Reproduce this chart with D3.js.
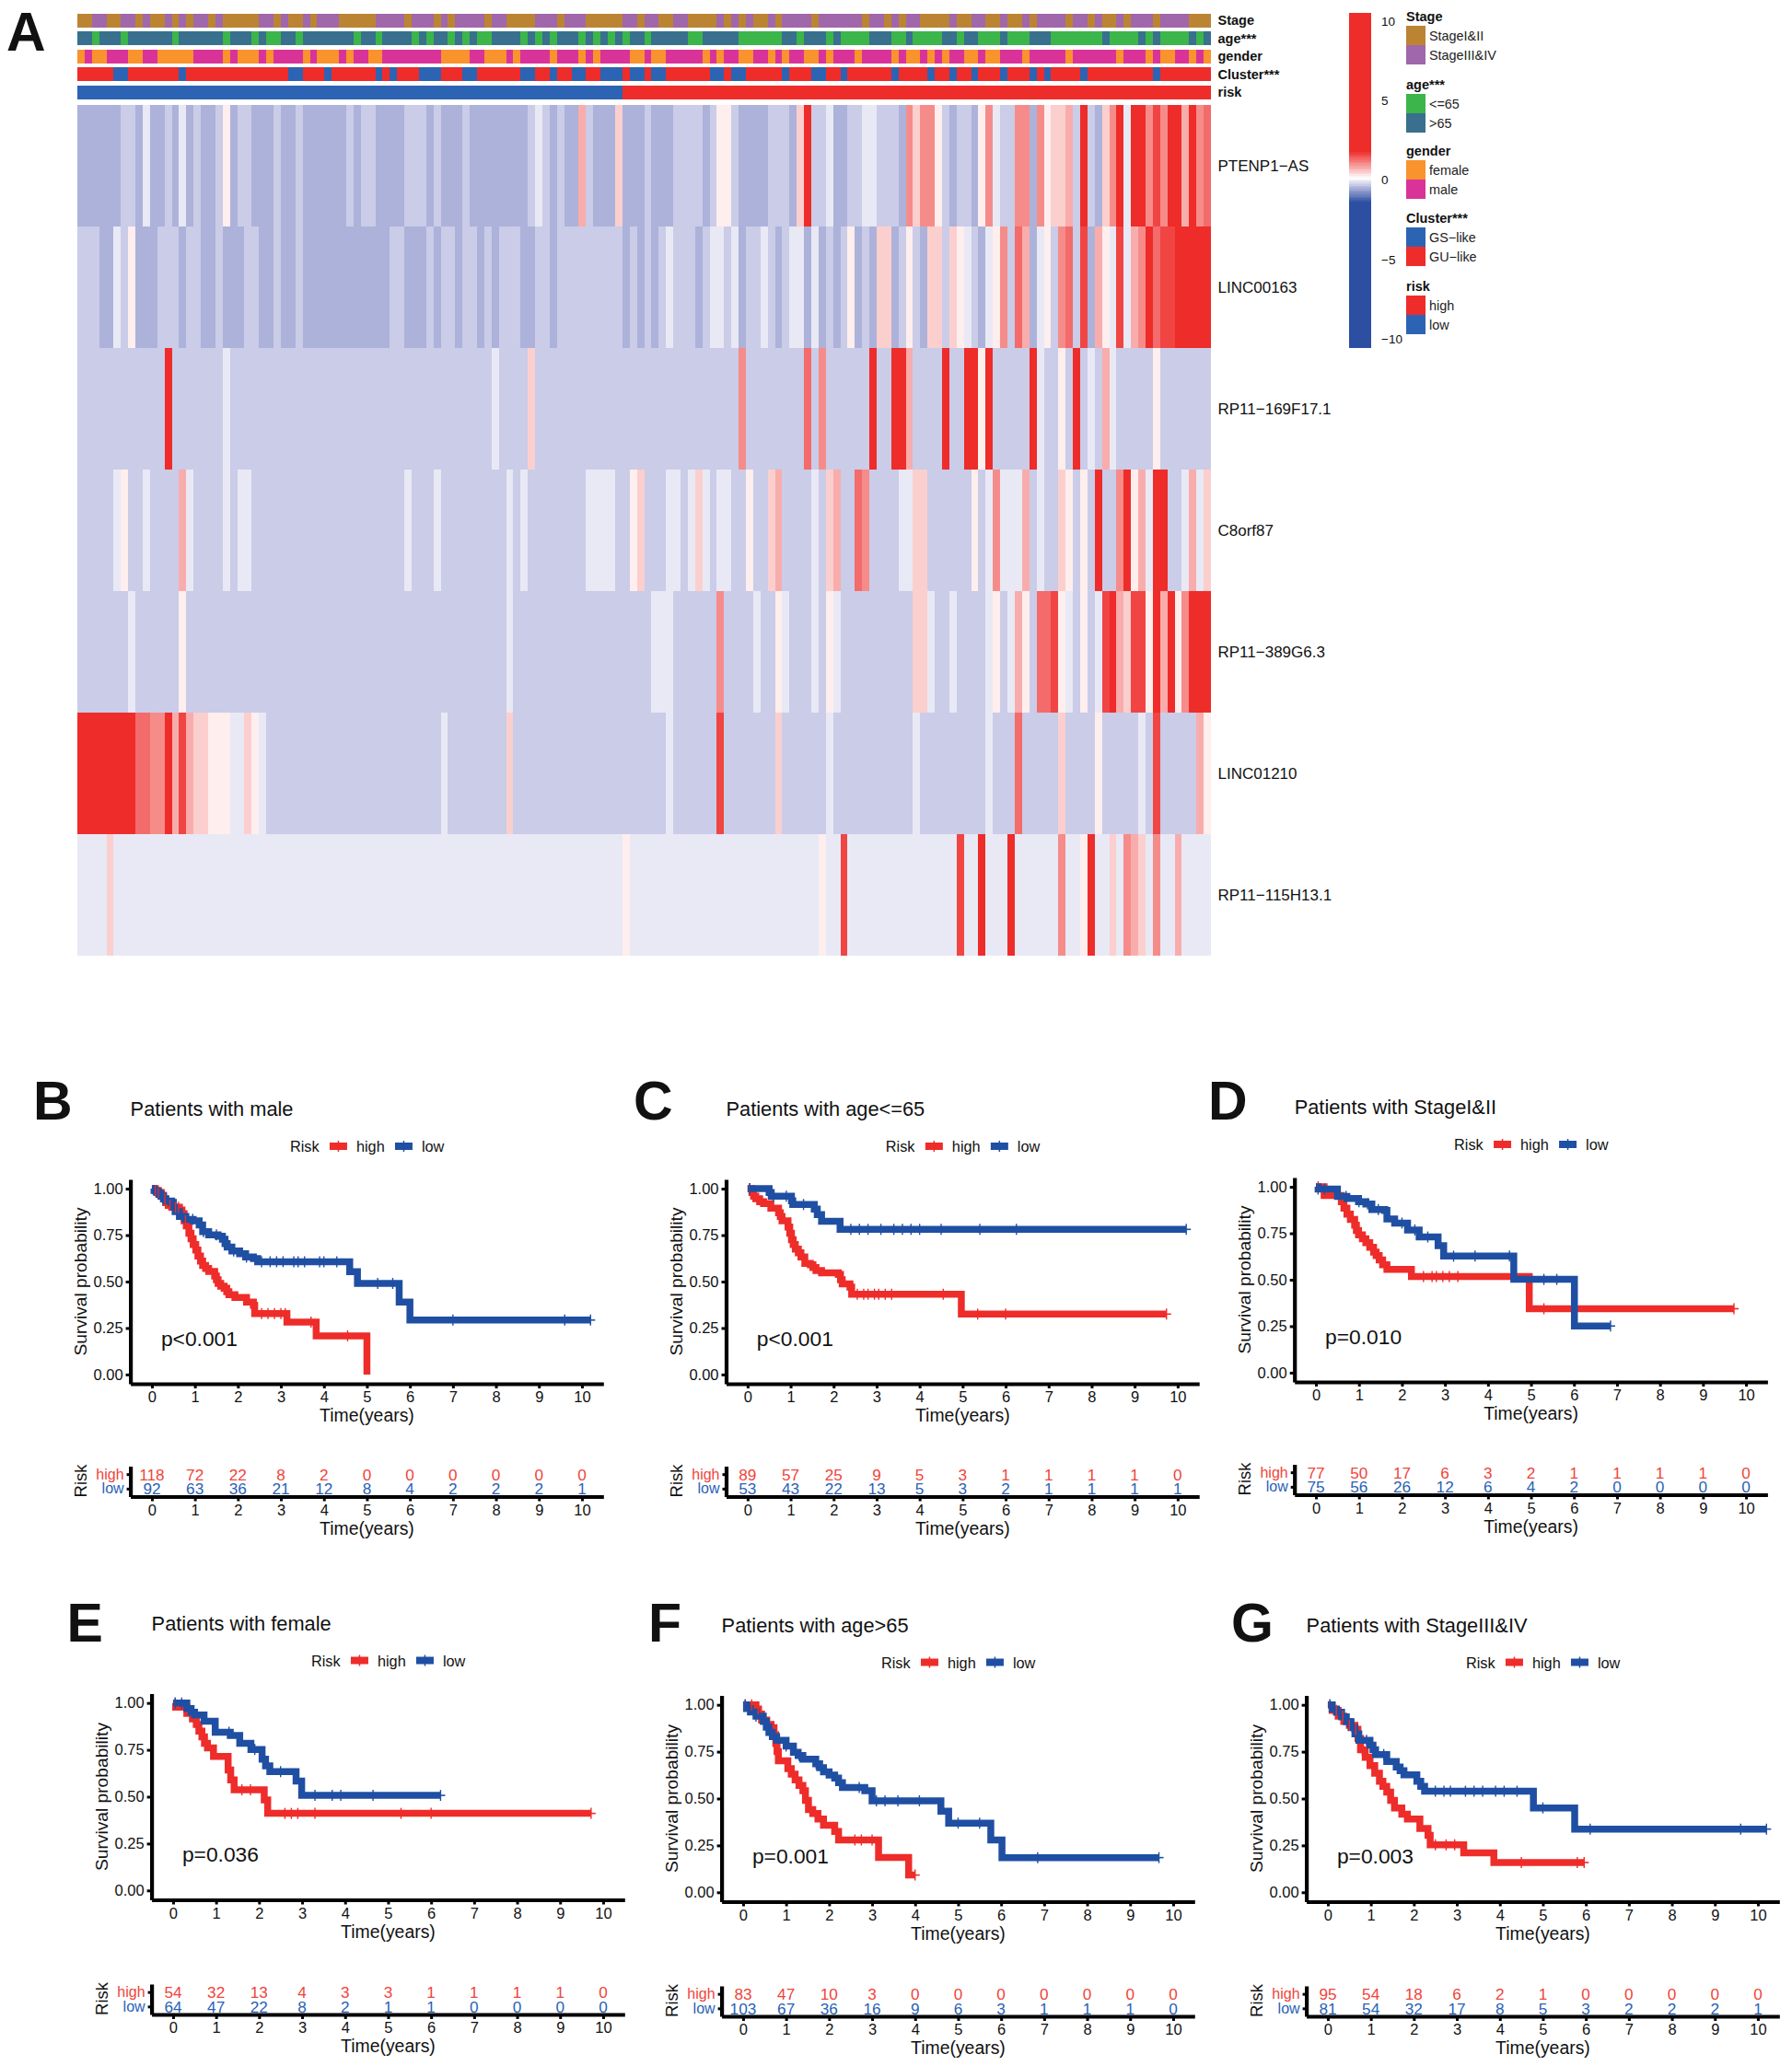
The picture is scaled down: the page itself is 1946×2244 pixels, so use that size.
<!DOCTYPE html>
<html>
<head>
<meta charset="utf-8">
<script src="https://cdn.jsdelivr.net/npm/d3@7"></script>
<style>
  body { margin: 0; background: #fff; }
  text { font-family: "Liberation Sans", Arial, sans-serif; fill: #111; }
</style>
</head>
<body>
<div id="chart"></div>
<script>
var svgWidth = 1946;
var svgHeight = 2244;

// expression levels
const A = -0.49, B = -0.28, C = -0.07, D = 0.24, E = 0.49, F = 0.76, G = 1.03, H = 1.29, I = 1.6, J = 5;

// heatmap rows as level,count runs over the sample columns
const genes = ["PTENP1\u2212AS", "LINC00163", "RP11\u2212169F17.1", "C8orf87", "RP11\u2212389G6.3", "LINC01210", "RP11\u2212115H13.1"];
const rowPTENP1 = [A,6,B,2,A,1,C,1,A,2,B,1,A,1,C,1,A,1,B,1,A,2,B,1,D,1,A,1,B,2,A,3,B,1,A,2,B,1,A,6,B,1,A,1,B,2,A,4,B,3,A,1,B,1,A,3,B,1,A,8,B,1,C,1,B,1,A,1,B,1,A,2,F,1,B,1,A,3,E,1,A,3,
  B,1,A,3,B,4,A,1,B,1,D,2,B,1,A,4,B,3,A,1,E,1,J,1,B,2,C,1,A,2,B,2,C,2,B,3,A,1,G,1,E,1,G,2,D,1,B,1,A,1,B,2,A,1,D,1,G,1,C,1,B,2,G,2,A,1,G,1,D,1,E,2,F,1,B,1,J,1,B,1,A,1,E,1,G,1,J,1,C,1,J,2,G,1,I,1,G,1,J,2,F,1,J,1,G,1,H,1];
const rowLINC00163 = [B,3,A,2,C,1,B,1,D,1,A,3,B,3,A,1,B,2,A,2,B,1,A,3,B,2,A,2,B,1,A,2,B,1,A,12,B,2,A,3,B,1,A,1,B,2,A,1,B,2,A,1,B,1,A,1,B,3,A,2,B,2,A,1,B,9,A,1,B,1,A,1,
  B,1,A,1,B,1,C,1,B,3,A,1,B,1,C,2,B,1,C,1,A,1,B,2,C,1,B,1,A,1,B,1,C,2,A,1,C,1,A,1,B,1,A,1,B,1,D,1,A,1,B,1,A,1,E,2,A,1,B,1,D,1,B,1,A,1,E,2,B,1,E,1,D,1,C,1,B,1,A,1,C,1,D,1,G,1,B,1,H,1,F,1,A,1,C,1,D,1,B,1,G,1,H,1,B,1,I,1,A,1,F,1,D,1,C,1,I,1,C,1,F,1,G,1,J,1,H,1,I,2,J,5];
const rowRP11169 = [B,12,J,1,B,7,C,1,B,36,C,1,B,4,E,1,B,15,
  B,13,G,1,B,8,H,1,B,1,G,1,B,6,J,1,B,2,J,2,F,1,B,4,J,1,B,2,J,2,D,1,J,1,B,5,J,1,C,1,B,2,D,1,B,1,J,1,B,1,C,1,B,1,F,1,C,1,B,5,D,1,B,7];
const rowC8orf87 = [B,5,C,1,D,1,B,2,C,1,B,4,F,1,C,1,B,4,C,1,B,1,C,2,B,21,C,1,B,3,C,1,B,9,C,1,B,1,C,1,B,8,C,4,B,2,D,1,E,1,
  B,3,C,2,B,1,C,1,E,1,C,1,B,1,C,2,B,2,D,1,B,2,E,1,F,1,B,4,C,1,B,1,E,1,F,1,B,2,H,1,G,1,B,4,C,2,E,2,B,6,D,1,B,1,C,1,G,1,C,3,F,1,B,1,C,1,B,2,E,1,D,1,B,1,D,1,B,1,J,1,B,2,G,1,J,1,D,1,F,1,C,1,J,2,B,2,C,1,F,1,C,1,E,1];
const rowRP11389 = [B,7,C,1,B,6,D,1,B,44,C,1,B,18,
  B,1,C,3,B,6,G,1,B,4,C,1,B,2,D,1,C,1,B,3,C,1,B,1,D,1,C,1,B,10,E,2,C,1,B,2,C,1,B,4,C,1,D,1,B,1,C,1,F,1,D,1,B,1,H,2,I,1,D,1,C,1,B,1,D,1,B,1,C,1,I,1,J,1,F,1,E,1,I,2,D,1,J,1,F,1,J,1,D,1,G,1,J,3];
const rowLINC01210 = [J,8,H,1,H,1,G,2,J,1,F,1,I,1,F,1,E,2,D,3,C,2,E,1,D,1,C,1,B,24,C,1,B,8,E,1,B,18,
  B,3,C,1,B,6,I,1,B,7,E,1,B,6,C,1,B,11,C,1,B,9,C,1,B,3,H,1,B,5,E,1,B,4,D,1,B,5,C,1,B,1,I,1,B,5,F,1,D,1];
const rowRP11115 = [C,4,E,1,C,70,D,1,C,2,
  C,24,D,1,C,2,I,1,C,15,I,1,C,2,J,1,C,3,J,1,C,6,G,1,C,2,D,1,J,1,C,2,E,1,C,1,G,1,F,1,E,1,C,1,G,1,C,2,F,1,C,4];
const heatRows = [rowPTENP1, rowLINC00163, rowRP11169, rowC8orf87, rowRP11389, rowLINC01210, rowRP11115];

// annotation tracks as alternating runs, starting with the first colour named
const stageRuns = [2,2,2,2,1,1,2,1,1,1,1,2,1,1,5,2,1,1,2,1,1,3,5,4,1,3,1,1,1,4,1,2,4,3,1,3,5,2,1,2,2,2,4,1,1,1,1,1,2,1,1,4,1,6,1,2,1,1,1,2,4,1,2,2,2,1,2,1,1,4,1,2,1,1,2,1,1,3,1,4,3];
const ageRuns = [2,1,3,1,6,1,6,1,3,1,1,2,2,1,7,1,2,1,4,1,1,1,2,1,1,1,1,2,4,1,1,1,1,1,3,1,1,1,1,1,1,1,2,1,5,2,5,6,2,1,3,1,1,4,3,2,1,4,2,1,2,3,1,3,3,7,1,4,1,1,1,4,1,1,1];
const genderRuns = [1,1,2,3,2,2,5,4,1,1,3,1,1,4,1,1,3,1,1,2,2,8,4,2,3,1,1,4,1,3,1,1,1,4,2,1,2,5,1,1,1,2,2,2,1,1,1,2,2,1,1,3,1,4,1,1,2,1,1,1,1,2,2,1,2,3,1,5,1,6,1,3,1,1,2,2,1,1,1];
const clusterRuns = [5,2,7,1,14,2,3,1,6,1,1,1,3,3,3,2,6,2,2,1,2,2,2,3,1,2,1,2,6,2,1,2,5,1,3,2,2,1,6,1,4,1,2,1,2,1,3,1,3,1,1,1,4,1,9,1,7];
const riskRuns = [75,81];

const annotNames = ["Stage", "age***", "gender", "Cluster***", "risk"];
const annotRuns = [stageRuns, ageRuns, genderRuns, clusterRuns, riskRuns];
const annotColors = [["#bb8433","#a067ab"],["#38708e","#3cb54a"],["#f8932e","#d9339a"],["#ee2c2a","#2d63b3"],["#2d63b3","#ee2c2a"]];

// legend blocks on the right of the heatmap
const legendTitles = ["Stage", "age***", "gender", "Cluster***", "risk"];
const legendLabels = [["StageI&II","StageIII&IV"],["<=65",">65"],["female","male"],["GS\u2212like","GU\u2212like"],["high","low"]];
const legendColors = [["#bb8433","#a067ab"],["#3cb54a","#38708e"],["#f8932e","#d9339a"],["#2d63b3","#ee2c2a"],["#ee2c2a","#2d63b3"]];

// survival curves as [years, probability]
const maleHigh = [[0,1],[.08,.99],[.15,.98],[.22,.965],[.27,.945],[.32,.925],[.38,.91],[.46,.9],[.64,.885],[.7,.865],[.75,.827],[.8,.8],[.86,.76],[.91,.73],[.96,.7],[1.02,.67],[1.07,.637],[1.13,.61],[1.18,.587],[1.25,.57],[1.32,.555],[1.46,.53],[1.5,.51],[1.54,.49],[1.6,.475],[1.68,.464],[1.74,.445],[1.79,.43],[1.93,.414],[2.2,.39],[2.36,.373],[2.39,.328],[3.14,.282],[3.82,.208],[5,0]];
const maleLow = [[0,1],[.05,.99],[.1,.983],[.16,.97],[.21,.959],[.27,.945],[.32,.934],[.46,.926],[.5,.9],[.54,.876],[.64,.851],[.79,.835],[.96,.827],[1.1,.805],[1.18,.769],[1.32,.752],[1.54,.744],[1.64,.728],[1.7,.705],[1.75,.686],[1.86,.665],[2.04,.65],[2.18,.632],[2.36,.624],[2.46,.607],[4.6,.553],[4.78,.49],[5.75,.39],[6,.293],[10.2,.293]];
const maleHighCens = [.08,.15,.3,.42,.55,.62,.78,2.55,2.7,2.85,3.0,3.1,3.7,4.55];
const maleLowCens = [.05,.12,.25,.38,.5,.7,.95,1.2,1.5,1.9,2.2,2.55,2.75,2.9,3.05,3.3,3.4,3.55,3.9,4.0,4.3,5.25,5.6,7.0,9.6,10.2];

const age65High = [[0,1],[.1,.98],[.14,.96],[.19,.946],[.28,.93],[.37,.92],[.54,.895],[.72,.87],[.76,.85],[.8,.827],[.94,.793],[.98,.76],[1.02,.725],[1.06,.7],[1.11,.675],[1.18,.655],[1.24,.632],[1.33,.598],[1.46,.59],[1.52,.575],[1.59,.56],[1.72,.547],[2.11,.539],[2.16,.51],[2.2,.488],[2.38,.47],[2.42,.432],[4.97,.325],[9.74,.325]];
const age65Low = [[0,1],[.5,.98],[.55,.96],[1.02,.935],[1.05,.915],[1.55,.89],[1.62,.86],[1.72,.824],[2.15,.781],[10.2,.781]];
const age65HighCens = [.05,2.55,2.7,2.8,2.95,3.05,3.2,3.35,4.55,5.35,6,9.74];
const age65LowCens = [.05,.6,.9,1.3,2.4,2.6,2.8,3.1,3.4,3.6,3.8,4,4.5,5.4,6.25,10.2];

const stage12High = [[0,1],[.19,.954],[.59,.92],[.65,.885],[.72,.853],[.8,.825],[.9,.793],[.94,.765],[.99,.742],[1.08,.72],[1.16,.7],[1.25,.675],[1.34,.649],[1.4,.63],[1.47,.607],[1.55,.58],[1.65,.556],[2.22,.517],[4.96,.344],[9.72,.344]];
const stage12Low = [[0,1],[.05,.988],[.5,.949],[.72,.937],[.99,.92],[1.16,.907],[1.3,.878],[1.6,.873],[1.65,.827],[1.83,.805],[2.13,.768],[2.4,.73],[2.84,.683],[2.97,.627],[4.6,.502],[6.01,.251],[6.85,.251]];
const stage12HighCens = [.05,2.5,2.7,2.8,2.95,3.1,3.3,5.3,9.72];
const stage12LowCens = [.05,.2,.7,1,1.2,1.45,2,2.3,2.6,3.2,3.7,4.5,5.3,5.6,6.85];

const femaleHigh = [[0,1],[.06,.978],[.32,.945],[.45,.915],[.54,.886],[.6,.85],[.67,.819],[.73,.785],[.8,.76],[.94,.715],[1.28,.643],[1.34,.59],[1.42,.537],[2.12,.483],[2.2,.411],[9.72,.411]];
const femaleLow = [[0,1],[.32,.97],[.42,.95],[.5,.936],[.72,.903],[.98,.844],[1.33,.827],[1.55,.785],[1.81,.752],[2.07,.7],[2.15,.665],[2.25,.634],[2.86,.584],[2.99,.507],[6.22,.507]];
const femaleHighCens = [.05,1.6,1.8,2.6,2.75,2.9,3.3,5.3,6,9.72];
const femaleLowCens = [.05,.2,1.3,1.9,2.5,3.3,3.7,3.9,4.65,6.22];

const age65upHigh = [[0,1],[.3,.978],[.36,.95],[.43,.919],[.55,.895],[.65,.878],[.72,.84],[.76,.794],[.79,.75],[.82,.701],[1.04,.659],[1.12,.63],[1.21,.6],[1.3,.57],[1.39,.542],[1.45,.49],[1.52,.441],[1.62,.42],[1.74,.391],[1.87,.357],[2.13,.324],[2.22,.279],[3.15,.186],[3.85,.092],[4,.092]];
const age65upLow = [[0,1],[.08,.98],[.17,.961],[.3,.94],[.47,.911],[.54,.88],[.6,.852],[.68,.83],[.78,.81],[1,.78],[1.17,.747],[1.28,.73],[1.39,.71],[1.69,.685],[1.78,.665],[1.87,.643],[2,.625],[2.13,.609],[2.22,.585],[2.31,.559],[2.83,.542],[3,.488],[4.6,.433],[4.78,.369],[5.76,.279],[6.02,.185],[9.67,.185]];
const age65upHighCens = [.05,.2,.35,2.6,2.75,3.0,4];
const age65upLowCens = [.05,.15,.3,.5,1,1.3,1.7,2.7,3.1,3.3,3.6,4.1,5,5.5,6.85,9.67];

const stage34High = [[0,1],[.1,.97],[.24,.94],[.37,.911],[.5,.89],[.63,.869],[.7,.82],[.76,.76],[.87,.72],[.98,.676],[1.09,.635],[1.2,.592],[1.28,.565],[1.37,.534],[1.46,.49],[1.55,.45],[1.72,.416],[1.85,.391],[2.14,.341],[2.33,.304],[2.38,.253],[3.16,.21],[3.86,.159],[5.96,.159]];
const stage34Low = [[0,1],[.1,.978],[.2,.96],[.32,.936],[.43,.91],[.54,.878],[.63,.845],[.72,.81],[.98,.785],[1.05,.76],[1.11,.735],[1.37,.698],[1.59,.668],[1.68,.648],[1.77,.626],[2.07,.592],[2.16,.565],[2.25,.539],[4.78,.45],[5.74,.337],[10.2,.337]];
const stage34HighCens = [.05,.2,.35,.5,.65,.8,2.5,2.75,2.95,4.5,5.8,5.96];
const stage34LowCens = [.05,.15,.45,.9,1.3,2.5,2.7,2.85,3.2,3.4,3.6,3.9,4.1,4.4,5,6.1,9.6,10.2];

// numbers at risk at years 0..10
const timeTicks = [0,1,2,3,4,5,6,7,8,9,10];
const maleAtRiskHigh = [118,72,22,8,2,0,0,0,0,0,0];
const maleAtRiskLow = [92,63,36,21,12,8,4,2,2,2,1];
const age65AtRiskHigh = [89,57,25,9,5,3,1,1,1,1,0];
const age65AtRiskLow = [53,43,22,13,5,3,2,1,1,1,1];
const stage12AtRiskHigh = [77,50,17,6,3,2,1,1,1,1,0];
const stage12AtRiskLow = [75,56,26,12,6,4,2,0,0,0,0];
const femaleAtRiskHigh = [54,32,13,4,3,3,1,1,1,1,0];
const femaleAtRiskLow = [64,47,22,8,2,1,1,0,0,0,0];
const age65upAtRiskHigh = [83,47,10,3,0,0,0,0,0,0,0];
const age65upAtRiskLow = [103,67,36,16,9,6,3,1,1,1,0];
const stage34AtRiskHigh = [95,54,18,6,2,1,0,0,0,0,0];
const stage34AtRiskLow = [81,54,32,17,8,5,3,2,2,2,1];

// layout of the six survival panels
const panels = [
  {letter:"B", title:"Patients with male", pval:"p<0.001", left:141.6, bottom:1503, tableBottom:1625.5, h:222, letterX:36, letterY:1216, high:maleHigh, low:maleLow, highCens:maleHighCens, lowCens:maleLowCens, riskHigh:maleAtRiskHigh, riskLow:maleAtRiskLow},
  {letter:"C", title:"Patients with age<=65", pval:"p<0.001", left:788.5, bottom:1503, tableBottom:1625.5, h:222, letterX:688, letterY:1216, high:age65High, low:age65Low, highCens:age65HighCens, lowCens:age65LowCens, riskHigh:age65AtRiskHigh, riskLow:age65AtRiskLow},
  {letter:"D", title:"Patients with StageI&II", pval:"p=0.010", left:1405.7, bottom:1501, tableBottom:1623.5, h:222, letterX:1312, letterY:1216, high:stage12High, low:stage12Low, highCens:stage12HighCens, lowCens:stage12LowCens, riskHigh:stage12AtRiskHigh, riskLow:stage12AtRiskLow},
  {letter:"E", title:"Patients with female", pval:"p=0.036", left:164.6, bottom:2063.5, tableBottom:2188, h:224, letterX:72.5, letterY:1783, high:femaleHigh, low:femaleLow, highCens:femaleHighCens, lowCens:femaleLowCens, riskHigh:femaleAtRiskHigh, riskLow:femaleAtRiskLow},
  {letter:"F", title:"Patients with age>65", pval:"p=0.001", left:783.6, bottom:2065.5, tableBottom:2190, h:224, letterX:704, letterY:1783, high:age65upHigh, low:age65upLow, highCens:age65upHighCens, lowCens:age65upLowCens, riskHigh:age65upAtRiskHigh, riskLow:age65upAtRiskLow},
  {letter:"G", title:"Patients with StageIII&IV", pval:"p=0.003", left:1418.6, bottom:2065.5, tableBottom:2190, h:224, letterX:1337, letterY:1783, high:stage34High, low:stage34Low, highCens:stage34HighCens, lowCens:stage34LowCens, riskHigh:stage34AtRiskHigh, riskLow:stage34AtRiskLow}
];

var redLine = "#ee2c2a";
var blueLine = "#1f4fa3";
var redText = "#f0443a";
var blueText = "#2a62b8";

// append the svg object to the body of the page
var svg = d3.select("#chart")
    .append("svg")
      .attr("width", svgWidth)
      .attr("height", svgHeight);

var heatColor = d3.scaleLinear()
  .domain([-1.4, -0.49, -0.28, -0.07, 0.1, 1.8])
  .range(["#2d4fa2", "#adb2da", "#caccE8", "#e8e9f5", "#ffffff", "#ee2c2a"])
  .clamp(true);

// turn level,count runs into one value per column
function expandRow(runs) {
  var out = [];
  for (var i = 0; i < runs.length; i += 2) {
    for (var k = 0; k < runs[i + 1]; k++) out.push(runs[i]);
  }
  return out;
}

function expandAlternating(runs) {
  var out = [];
  runs.forEach(function(n, i) {
    for (var k = 0; k < n; k++) out.push(i % 2);
  });
  return out;
}

var columnScale = d3.scaleLinear().domain([0, 156]).range([84, 1315]);
var geneScale = d3.scaleBand().domain(genes).range([114, 1038]);
var annotScale = d3.scaleBand().domain(annotNames).range([15, 107.5]).paddingInner(0.25);

// annotation tracks
annotNames.forEach(function(name, t) {
  svg.append("g").attr("shape-rendering", "crispEdges").selectAll("rect")
    .data(expandAlternating(annotRuns[t]))
    .enter()
    .append("rect")
      .attr("x", (d, i) => columnScale(i))
      .attr("y", annotScale(name))
      .attr("width", (d, i) => i == 155 ? columnScale(1) - columnScale(0) : columnScale(1) - columnScale(0) + 1)
      .attr("height", annotScale.bandwidth())
      .attr("fill", d => annotColors[t][d]);
  svg.append("text")
    .attr("x", 1322.5)
    .attr("y", annotScale(name) + annotScale.bandwidth() / 2 + 5)
    .attr("font-size", 14.5)
    .attr("font-weight", "bold")
    .text(name);
});

// heatmap body
genes.forEach(function(gene, r) {
  svg.append("g").attr("shape-rendering", "crispEdges").selectAll("rect")
    .data(expandRow(heatRows[r]))
    .enter()
    .append("rect")
      .attr("x", (d, i) => columnScale(i))
      .attr("y", geneScale(gene))
      .attr("width", (d, i) => i == 155 ? columnScale(1) - columnScale(0) : columnScale(1) - columnScale(0) + 1)
      .attr("height", geneScale.bandwidth())
      .attr("fill", d => heatColor(d));
  svg.append("text")
    .attr("x", 1322.5)
    .attr("y", geneScale(gene) + geneScale.bandwidth() / 2 + 6)
    .attr("font-size", 17)
    .text(gene);
});

// colour bar
var barScale = d3.scaleLinear().domain([-10, 10]).range([368, 22.7]);
var barValues = d3.range(-10.5, 10.5, 0.1);
svg.append("g").attr("shape-rendering", "crispEdges").selectAll("rect")
  .data(barValues)
  .enter()
  .append("rect")
    .attr("x", 1465)
    .attr("y", d => barScale(d + 0.1))
    .attr("width", 24)
    .attr("height", barScale(0) - barScale(0.1) + 1)
    .attr("fill", d => heatColor(d));

var barAxis = svg.append("g")
  .attr("transform", "translate(1489,0)")
  .call(d3.axisRight(barScale).tickValues([-10, -5, 0, 5, 10]).tickSize(0).tickPadding(11)
    .tickFormat(d => String(d).replace("-", "\u2212")));
barAxis.select(".domain").remove();
barAxis.selectAll("text").attr("font-size", 13.5).style("font-family", "Liberation Sans");

// legend blocks
var legendTitleY = [18, 92, 164, 237, 311];
legendTitles.forEach(function(title, b) {
  var y0 = legendTitleY[b] + 10;
  svg.append("text")
    .attr("x", 1527)
    .attr("y", legendTitleY[b] + 5)
    .attr("font-size", 14.5)
    .attr("font-weight", "bold")
    .text(title);
  legendLabels[b].forEach(function(label, i) {
    svg.append("rect")
      .attr("x", 1527)
      .attr("y", y0 + i * 21)
      .attr("width", 21)
      .attr("height", 21)
      .attr("fill", legendColors[b][i]);
    svg.append("text")
      .attr("x", 1552)
      .attr("y", y0 + i * 21 + 15.5)
      .attr("font-size", 14.4)
      .style("fill", "#222")
      .text(label);
  });
});

svg.append("text")
  .attr("x", 7)
  .attr("y", 55)
  .attr("font-size", 59)
  .attr("font-weight", "bold")
  .text("A");

// value of a step curve at time t
function stepAt(curve, t) {
  var i = d3.bisector(d => d[0]).right(curve, t) - 1;
  return curve[Math.max(i, 0)][1];
}

function styleAxis(g, padTop) {
  g.select(".domain").attr("stroke", "#000").attr("stroke-width", 4.2);
  g.selectAll(".tick line").attr("stroke", "#000").attr("stroke-width", 3);
  g.selectAll(".tick text").attr("font-size", 16.5).style("fill", "#111").style("font-family", "Liberation Sans");
}

var valueLine = d3.line().curve(d3.curveStepAfter);

panels.forEach(function(p) {
  var x = d3.scaleLinear().domain([-0.5, 10.5]).range([p.left, p.left + 513.7]);
  var y = d3.scaleLinear().domain([-0.05, 1.05]).range([p.bottom, p.bottom - p.h]);
  var riskY = d3.scalePoint().domain(["low", "high"]).range([p.tableBottom, p.tableBottom - 33]).padding(0.55);
  var plotTop = p.bottom - p.h;

  svg.append("text")
    .attr("x", p.letterX)
    .attr("y", p.letterY)
    .attr("font-size", 59)
    .attr("font-weight", "bold")
    .text(p.letter);

  svg.append("text")
    .attr("x", p.left)
    .attr("y", plotTop - 69)
    .attr("font-size", 21.8)
    .text(p.title);

  // risk legend
  var legendY = plotTop - 36;
  var legendGroup = svg.append("g").attr("transform", `translate(${x(0)}, ${legendY})`);
  legendGroup.append("text").attr("x", 150).attr("y", 6).attr("font-size", 16.3).text("Risk");
  [[193, "high", redLine], [264, "low", blueLine]].forEach(function(item) {
    legendGroup.append("line")
      .attr("x1", item[0]).attr("x2", item[0] + 19)
      .attr("stroke", item[2]).attr("stroke-width", 8);
    legendGroup.append("line")
      .attr("x1", item[0] + 9.5).attr("x2", item[0] + 9.5)
      .attr("y1", -6).attr("y2", 6)
      .attr("stroke", item[2]).attr("stroke-width", 1.5);
    legendGroup.append("text")
      .attr("x", item[0] + 29).attr("y", 6)
      .attr("font-size", 16.3)
      .text(item[1]);
  });

  // axes
  var xAxisGroup = svg.append("g")
    .attr("transform", `translate(0, ${p.bottom})`)
    .call(d3.axisBottom(x).tickValues(timeTicks).tickSize(5).tickPadding(3.5).tickSizeOuter(0));
  styleAxis(xAxisGroup);

  var yAxisGroup = svg.append("g")
    .attr("transform", `translate(${p.left}, 0)`)
    .call(d3.axisLeft(y).tickValues([0, 0.25, 0.5, 0.75, 1]).tickFormat(d3.format(".2f")).tickSize(5).tickPadding(3).tickSizeOuter(0));
  styleAxis(yAxisGroup);

  svg.append("text")
    .attr("x", x(5))
    .attr("y", p.bottom + 41)
    .attr("text-anchor", "middle")
    .attr("font-size", 19.4)
    .text("Time(years)");

  svg.append("text")
    .attr("transform", `translate(${x(0) - 71}, ${y(0.5)}) rotate(-90)`)
    .attr("text-anchor", "middle")
    .attr("font-size", 19.2)
    .text("Survival probability");

  svg.append("text")
    .attr("x", x(0) + 10)
    .attr("y", p.bottom - 41.5)
    .attr("font-size", 22.8)
    .text(p.pval);

  // curves, censor marks on top
  [[p.high, redLine], [p.low, blueLine]].forEach(function(s) {
    svg.append("path")
      .attr("d", valueLine.x(d => x(d[0])).y(d => y(d[1]))(s[0]))
      .attr("fill", "none")
      .attr("stroke", s[1])
      .attr("stroke-width", 7.5);
  });
  [[p.high, p.highCens, redLine], [p.low, p.lowCens, blueLine]].forEach(function(s) {
    svg.append("g").selectAll("line")
      .data(s[1])
      .enter()
      .append("line")
        .attr("x1", d => x(d))
        .attr("x2", d => x(d))
        .attr("y1", d => y(stepAt(s[0], d)) - 6)
        .attr("y2", d => y(stepAt(s[0], d)) + 6)
        .attr("stroke", s[2])
        .attr("stroke-width", 1.4);
  });
  // the tail of each curve ends in a small cross
  [[p.high, redLine], [p.low, blueLine]].forEach(function(s) {
    var last = s[0][s[0].length - 1];
    if (last[1] == 0) return;
    svg.append("line")
      .attr("x1", x(last[0])).attr("x2", x(last[0]) + 5)
      .attr("y1", y(last[1])).attr("y2", y(last[1]))
      .attr("stroke", s[1]).attr("stroke-width", 1.6);
  });

  // risk table
  var tableX = svg.append("g")
    .attr("transform", `translate(0, ${p.tableBottom})`)
    .call(d3.axisBottom(x).tickValues(timeTicks).tickSize(5).tickPadding(3.5).tickSizeOuter(0));
  styleAxis(tableX);

  var tableY = svg.append("g")
    .attr("transform", `translate(${p.left}, 0)`)
    .call(d3.axisLeft(riskY).tickSize(4).tickPadding(3).tickSizeOuter(0));
  styleAxis(tableY);
  tableY.selectAll(".tick text")
    .style("fill", d => d == "high" ? redText : blueText)
    .attr("font-size", 16);

  [["high", p.riskHigh, redText], ["low", p.riskLow, blueText]].forEach(function(s) {
    svg.append("g").selectAll("text")
      .data(s[1])
      .enter()
      .append("text")
        .attr("x", (d, i) => x(timeTicks[i]))
        .attr("y", riskY(s[0]) + 6.5)
        .attr("text-anchor", "middle")
        .attr("font-size", 17.2)
        .style("fill", s[2])
        .text(d => d);
  });

  svg.append("text")
    .attr("x", x(5))
    .attr("y", p.tableBottom + 41)
    .attr("text-anchor", "middle")
    .attr("font-size", 19.4)
    .text("Time(years)");

  svg.append("text")
    .attr("transform", `translate(${x(0) - 71}, ${p.tableBottom - 17}) rotate(-90)`)
    .attr("text-anchor", "middle")
    .attr("font-size", 18.5)
    .text("Risk");
});
</script>
</body>
</html>
